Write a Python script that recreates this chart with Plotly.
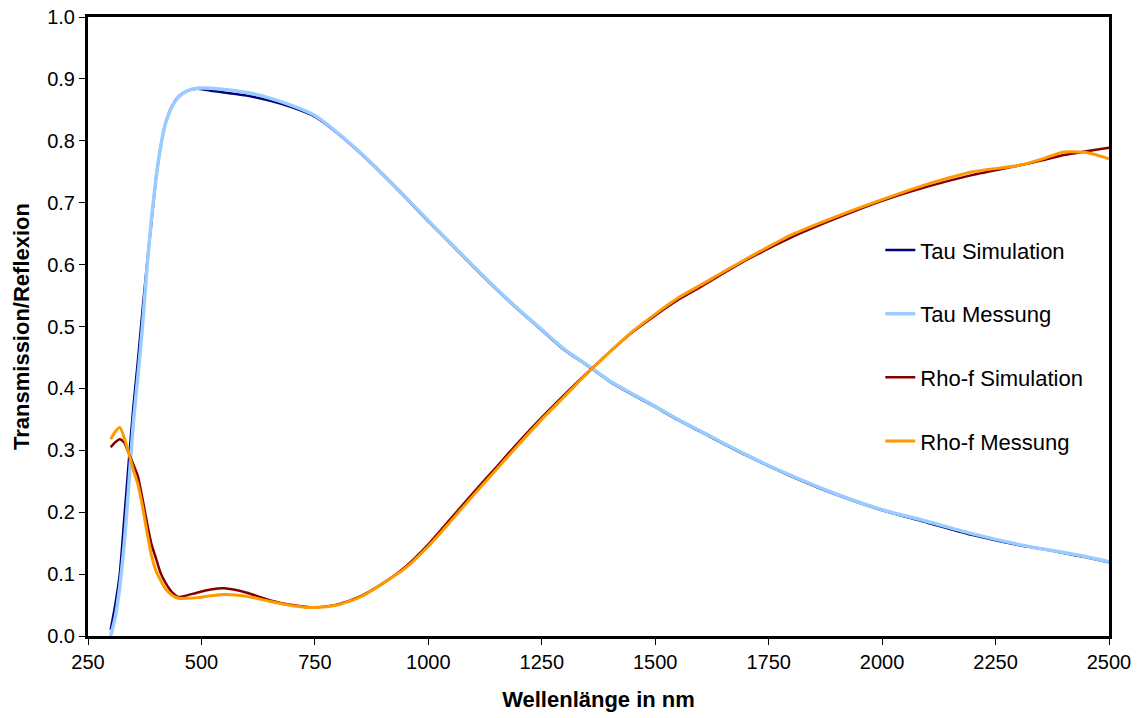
import plotly.graph_objects as go

# Wavelength grid (nm)
wavelength = [300, 310, 320, 330, 340, 350, 360, 370, 380, 390, 400, 410, 420, 435, 450,
              470, 490, 520, 550, 600, 650, 700, 750, 800, 850, 900, 950, 1000, 1050,
              1100, 1150, 1200, 1250, 1300, 1350, 1400, 1450, 1500, 1550, 1600, 1700,
              1800, 1900, 2000, 2100, 2200, 2300, 2350, 2400, 2450, 2500]

tau_simulation = [0.010, 0.050, 0.100, 0.190, 0.283, 0.370, 0.445, 0.525, 0.600, 0.670,
                  0.740, 0.790, 0.826, 0.856, 0.872, 0.881, 0.884, 0.881, 0.878, 0.873,
                  0.865, 0.854, 0.839, 0.812, 0.780, 0.745, 0.708, 0.670, 0.633, 0.596,
                  0.560, 0.526, 0.494, 0.462, 0.437, 0.411, 0.390, 0.370, 0.349, 0.330,
                  0.292, 0.258, 0.228, 0.203, 0.183, 0.163, 0.147, 0.141, 0.134, 0.127,
                  0.119]

tau_messung = [0.000, 0.030, 0.080, 0.150, 0.245, 0.345, 0.420, 0.500, 0.595, 0.675,
               0.740, 0.790, 0.826, 0.855, 0.871, 0.881, 0.885, 0.885, 0.883, 0.878,
               0.869, 0.857, 0.841, 0.813, 0.781, 0.746, 0.709, 0.671, 0.634, 0.597,
               0.561, 0.527, 0.495, 0.463, 0.438, 0.412, 0.391, 0.371, 0.350, 0.331,
               0.293, 0.259, 0.229, 0.204, 0.185, 0.165, 0.148, 0.141, 0.135, 0.128,
               0.120]

rho_simulation = [0.305, 0.313, 0.318, 0.312, 0.295, 0.277, 0.258, 0.222, 0.183, 0.148,
                  0.125, 0.102, 0.087, 0.071, 0.063, 0.066, 0.070, 0.075, 0.077, 0.070,
                  0.058, 0.050, 0.046, 0.051, 0.064, 0.085, 0.112, 0.148, 0.190, 0.232,
                  0.273, 0.314, 0.353, 0.390, 0.425, 0.459, 0.491, 0.518, 0.543, 0.564,
                  0.607, 0.644, 0.675, 0.703, 0.726, 0.745, 0.760, 0.768, 0.777, 0.783,
                  0.789]

rho_messung = [0.318, 0.330, 0.337, 0.320, 0.295, 0.268, 0.245, 0.210, 0.168, 0.130,
               0.105, 0.090, 0.077, 0.066, 0.061, 0.061, 0.062, 0.065, 0.067, 0.064,
               0.056, 0.049, 0.046, 0.050, 0.063, 0.085, 0.110, 0.145, 0.186, 0.228,
               0.269, 0.310, 0.350, 0.387, 0.424, 0.459, 0.492, 0.520, 0.546, 0.567,
               0.609, 0.648, 0.678, 0.705, 0.730, 0.750, 0.760, 0.770, 0.782, 0.781,
               0.771]

x_ticks = [250, 500, 750, 1000, 1250, 1500, 1750, 2000, 2250, 2500]
y_ticks = [0.0, 0.1, 0.2, 0.3, 0.4, 0.5, 0.6, 0.7, 0.8, 0.9, 1.0]

series = [
    ("Tau Simulation", tau_simulation, "#000080", 2.5),
    ("Tau Messung", tau_messung, "#99CCFF", 3.5),
    ("Rho-f Simulation", rho_simulation, "#800000", 2.5),
    ("Rho-f Messung", rho_messung, "#FF9900", 3.0),
]

fig = go.Figure()
for name, values, color, width in series:
    fig.add_trace(go.Scatter(
        x=wavelength, y=values, mode="lines", name=name, legendgroup=name,
        line=dict(color=color, width=width, shape="spline", smoothing=0.6),
    ))

font_family = "Arial, Liberation Sans, sans-serif"

fig.update_layout(
    width=1138, height=718,
    margin=dict(l=88, r=29, t=17, b=82),
    paper_bgcolor="white", plot_bgcolor="white",
    font=dict(family=font_family, color="black", size=20),
    showlegend=True,
    legend=dict(
        x=0.776, y=0.657, xanchor="left", yanchor="top",
        bgcolor="rgba(0,0,0,0)", font=dict(size=22),
        tracegroupgap=32,
    ),
)

fig.update_xaxes(
    range=[250, 2500], tickvals=x_ticks, ticktext=[str(v) for v in x_ticks],
    showgrid=False, zeroline=False, automargin=False,
    showline=True, linecolor="black", linewidth=3, mirror=True,
    ticks="outside", ticklen=6, tickcolor="black", tickwidth=1,
    tickfont=dict(size=20),
    title=dict(text="<b>Wellenlänge in nm</b>", font=dict(size=22), standoff=20),
)
fig.update_yaxes(
    range=[0, 1], tickvals=y_ticks, ticktext=[f"{v:.1f}" for v in y_ticks],
    showgrid=False, zeroline=False, automargin=False,
    showline=True, linecolor="black", linewidth=3, mirror=True,
    ticks="outside", ticklen=6, tickcolor="black", tickwidth=1,
    tickfont=dict(size=20),
    title=dict(text="<b>Transmission/Reflexion</b>", font=dict(size=22), standoff=12),
)

fig.write_html("out.html")
